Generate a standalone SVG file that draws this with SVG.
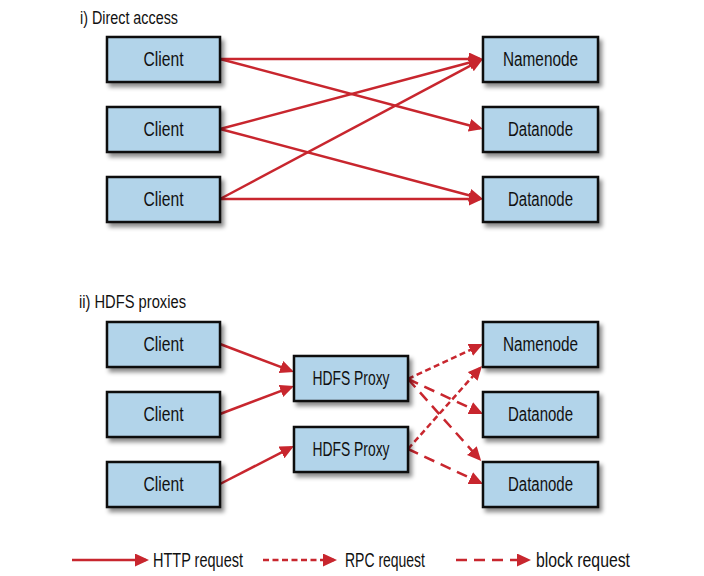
<svg xmlns="http://www.w3.org/2000/svg" width="704" height="576" viewBox="0 0 704 576">
<style>
.box{fill:#b2d4ea;stroke:#111;stroke-width:2.5}
.lbl{font-family:"Liberation Sans",Arial,sans-serif;font-size:19.5px;fill:#111;text-anchor:middle}
.ttl{font-family:"Liberation Sans",Arial,sans-serif;font-size:17.5px;fill:#111}
.leg{font-family:"Liberation Sans",Arial,sans-serif;font-size:19.5px;fill:#111}
.ln{fill:none;stroke:#c8262e;stroke-width:2.5;marker-end:url(#ah)}
.rpc{stroke-dasharray:6 3.5}
.blk{stroke-dasharray:11 7}
</style>
<defs>
<filter id="sh" x="-20%" y="-20%" width="150%" height="160%">
<feDropShadow dx="3" dy="4" stdDeviation="2.2" flood-color="#000" flood-opacity="0.45"/>
</filter>
<marker id="ah" markerUnits="userSpaceOnUse" markerWidth="16" markerHeight="14" refX="11" refY="6.5" orient="auto">
<path d="M0,0 L14,6.5 L0,13 z" fill="#c8262e"/>
</marker>
</defs>
<rect width="704" height="576" fill="#fff"/>
<text class="ttl" x="80" y="24" textLength="98" lengthAdjust="spacingAndGlyphs">i) Direct access</text>
<text class="ttl" x="79" y="308" textLength="107" lengthAdjust="spacingAndGlyphs">ii) HDFS proxies</text>

<g id="connectors">
<path class="ln" d="M220,59 L480,59"/>
<path class="ln" d="M220,59 L480.1,128.2"/>
<path class="ln" d="M220,129 L480.1,59.8"/>
<path class="ln" d="M220,129 L480.1,198.2"/>
<path class="ln" d="M220,199 L480.4,60.4"/>
<path class="ln" d="M220,199 L480,199"/>
<path class="ln" d="M220,344 L291.2,370.9"/>
<path class="ln" d="M220,414 L291.2,387.1"/>
<path class="ln" d="M220,484 L291.3,447.4"/>
<path class="ln rpc" d="M408,379 L480.3,345.3"/>
<path class="ln blk" d="M408,379 L480.3,412.7"/>
<path class="ln blk" d="M408,379 L479.2,458.8"/>
<path class="ln rpc" d="M408,449 L480,368.2"/>
<path class="ln blk" d="M408,449 L480.3,482.7"/>
<path class="ln" d="M72,560 L146,560"/>
<path class="ln rpc" d="M263,560 L334,560"/>
<path class="ln blk" d="M456,560 L528,560"/>
</g>

<g id="client1"><rect class="box" filter="url(#sh)" x="107" y="37" width="113" height="45"/><text class="lbl" x="163.5" y="66" textLength="40" lengthAdjust="spacingAndGlyphs">Client</text></g>
<g id="client2"><rect class="box" filter="url(#sh)" x="107" y="107" width="113" height="45"/><text class="lbl" x="163.5" y="136" textLength="40" lengthAdjust="spacingAndGlyphs">Client</text></g>
<g id="client3"><rect class="box" filter="url(#sh)" x="107" y="177" width="113" height="45"/><text class="lbl" x="163.5" y="206" textLength="40" lengthAdjust="spacingAndGlyphs">Client</text></g>
<g id="namenode1"><rect class="box" filter="url(#sh)" x="483" y="37" width="115" height="45"/><text class="lbl" x="540.5" y="66" textLength="75" lengthAdjust="spacingAndGlyphs">Namenode</text></g>
<g id="datanode1"><rect class="box" filter="url(#sh)" x="483" y="107" width="115" height="45"/><text class="lbl" x="540.5" y="136" textLength="65" lengthAdjust="spacingAndGlyphs">Datanode</text></g>
<g id="datanode2"><rect class="box" filter="url(#sh)" x="483" y="177" width="115" height="45"/><text class="lbl" x="540.5" y="206" textLength="65" lengthAdjust="spacingAndGlyphs">Datanode</text></g>

<g id="client4"><rect class="box" filter="url(#sh)" x="107" y="322" width="113" height="45"/><text class="lbl" x="163.5" y="351" textLength="40" lengthAdjust="spacingAndGlyphs">Client</text></g>
<g id="client5"><rect class="box" filter="url(#sh)" x="107" y="392" width="113" height="45"/><text class="lbl" x="163.5" y="421" textLength="40" lengthAdjust="spacingAndGlyphs">Client</text></g>
<g id="client6"><rect class="box" filter="url(#sh)" x="107" y="462" width="113" height="45"/><text class="lbl" x="163.5" y="491" textLength="40" lengthAdjust="spacingAndGlyphs">Client</text></g>
<g id="proxy1"><rect class="box" filter="url(#sh)" x="294" y="356" width="114" height="45"/><text class="lbl" x="351" y="385" textLength="77" lengthAdjust="spacingAndGlyphs">HDFS Proxy</text></g>
<g id="proxy2"><rect class="box" filter="url(#sh)" x="294" y="427" width="114" height="45"/><text class="lbl" x="351" y="456" textLength="77" lengthAdjust="spacingAndGlyphs">HDFS Proxy</text></g>
<g id="namenode2"><rect class="box" filter="url(#sh)" x="483" y="322" width="115" height="45"/><text class="lbl" x="540.5" y="351" textLength="75" lengthAdjust="spacingAndGlyphs">Namenode</text></g>
<g id="datanode3"><rect class="box" filter="url(#sh)" x="483" y="392" width="115" height="45"/><text class="lbl" x="540.5" y="421" textLength="65" lengthAdjust="spacingAndGlyphs">Datanode</text></g>
<g id="datanode4"><rect class="box" filter="url(#sh)" x="483" y="462" width="115" height="45"/><text class="lbl" x="540.5" y="491" textLength="65" lengthAdjust="spacingAndGlyphs">Datanode</text></g>

<g id="legend">
<text class="leg" x="153" y="567" textLength="90" lengthAdjust="spacingAndGlyphs">HTTP request</text>
<text class="leg" x="345" y="567" textLength="80" lengthAdjust="spacingAndGlyphs">RPC request</text>
<text class="leg" x="536" y="567" textLength="94" lengthAdjust="spacingAndGlyphs">block request</text>
</g>
</svg>
